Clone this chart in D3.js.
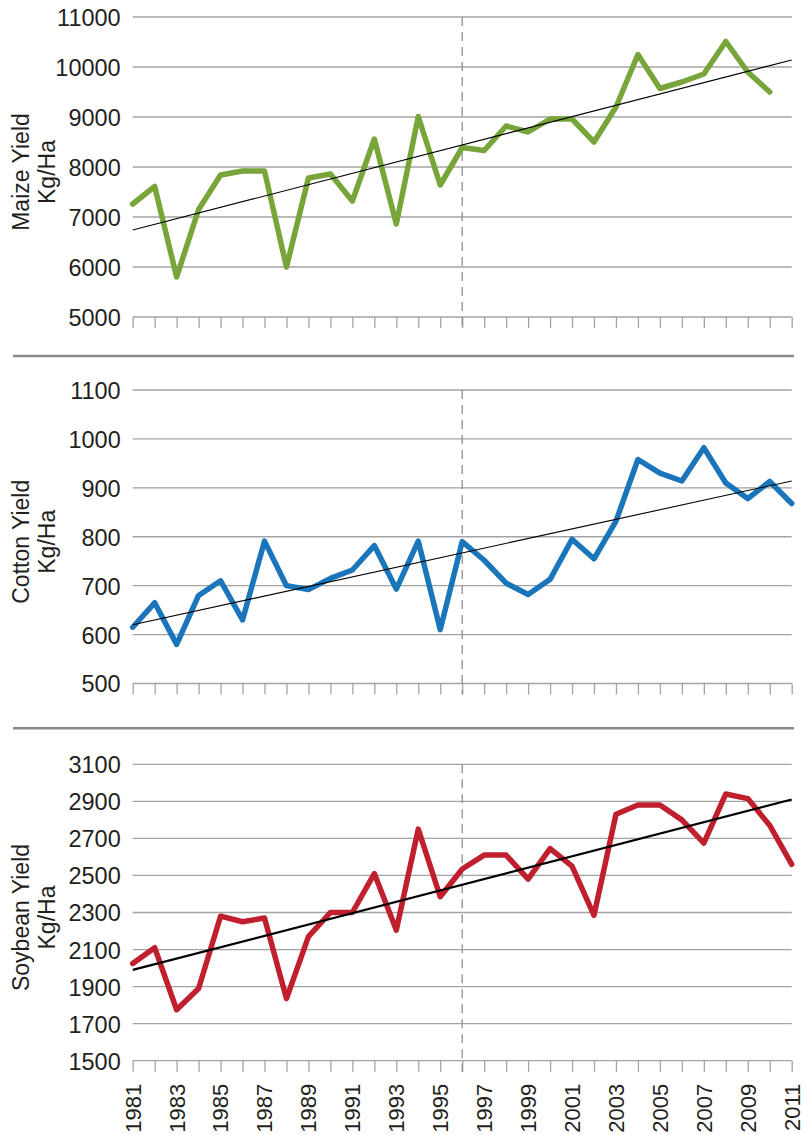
<!DOCTYPE html>
<html>
<head>
<meta charset="utf-8">
<script src="https://cdn.jsdelivr.net/npm/d3@7"></script>
<style>
  html, body { margin: 0; padding: 0; background: #fff; }
  svg { display: block; }
  text { font-family: "Liberation Sans", Arial, Helvetica, sans-serif; fill: #231f20; }
</style>
</head>
<body>
<svg id="chart" width="804" height="1135"></svg>
<script>
// ---------- DATA ----------
const years = d3.range(1981, 2012);
const yearLabels = d3.range(1981, 2012, 2);
const markerYear = 1996;

const maizeYears = d3.range(1981, 2011);
const maizeYield = [7260, 7610, 5800, 7150, 7840, 7920, 7920, 6000, 7780, 7860,
                    7320, 8560, 6860, 9010, 7640, 8390, 8330, 8820, 8700, 8960,
                    8960, 8500, 9200, 10250, 9570, 9700, 9860, 10510, 9900, 9500];
const maizeTrend = [6740, 10140];
const maizeTicks = [5000, 6000, 7000, 8000, 9000, 10000, 11000];

const cottonYears = d3.range(1981, 2012);
const cottonYield = [615, 665, 580, 680, 710, 630, 791, 700, 692, 715,
                     732, 782, 693, 791, 610, 790, 752, 705, 682, 713,
                     795, 755, 832, 958, 930, 914, 982, 910, 878, 913, 868];
const cottonTrend = [620, 914];
const cottonTicks = [500, 600, 700, 800, 900, 1000, 1100];

const soyYears = d3.range(1981, 2012);
const soyYield = [2025, 2110, 1775, 1890, 2280, 2250, 2270, 1835, 2170, 2300,
                  2300, 2510, 2205, 2750, 2385, 2535, 2610, 2610, 2480, 2645,
                  2550, 2285, 2830, 2880, 2880, 2800, 2675, 2940, 2915, 2770, 2560];
const soyTrend = [1990, 2910];
const soyTicks = [1500, 1700, 1900, 2100, 2300, 2500, 2700, 2900, 3100];

// ---------- LAYOUT ----------
const svg = d3.select("#chart");
const x = d3.scaleLinear().domain([1981, 2011]).range([132.7, 791.7]);

const panels = [
  { title: ["Maize Yield", "Kg/Ha"], years: maizeYears, values: maizeYield, trend: maizeTrend,
    ticks: maizeTicks, top: 17, bottom: 317, color: "#77a53a", trendWidth: 1.1 },
  { title: ["Cotton Yield", "Kg/Ha"], years: cottonYears, values: cottonYield, trend: cottonTrend,
    ticks: cottonTicks, top: 390, bottom: 683.5, color: "#1a75bb", trendWidth: 1.1 },
  { title: ["Soybean Yield", "Kg/Ha"], years: soyYears, values: soyYield, trend: soyTrend,
    ticks: soyTicks, top: 764.3, bottom: 1060.7, color: "#c01f2e", trendWidth: 2.2 }
];

const gridColor = "#a3a3a3";
const fontSize = 23.5;
const yearFontSize = 22;

panels.forEach((p, i) => {
  const y = d3.scaleLinear().domain([p.ticks[0], p.ticks[p.ticks.length - 1]]).range([p.bottom, p.top]);
  const g = svg.append("g");

  // gridlines
  g.append("g").selectAll("line").data(p.ticks.slice(1)).join("line")
    .attr("x1", x(1981)).attr("x2", x(2011))
    .attr("y1", d => y(d)).attr("y2", d => y(d))
    .attr("stroke", gridColor).attr("stroke-width", 1.3);

  // y axis labels
  const yAxis = g.append("g").attr("transform", `translate(${x(1981)},0)`)
    .call(d3.axisLeft(y).tickValues(p.ticks).tickSize(0).tickPadding(12).tickFormat(d3.format("d")));
  yAxis.select(".domain").remove();
  yAxis.attr("font-size", null).attr("font-family", null);
  yAxis.selectAll("text").style("font-size", fontSize + "px")
    .style("font-family", '"Liberation Sans", Arial, sans-serif').attr("fill", "#231f20")
    .attr("dy", "0.36em");

  // x axis line + ticks
  const xAxis = g.append("g").attr("transform", `translate(0,${p.bottom})`)
    .call(d3.axisBottom(x).tickValues(years).tickSize(11).tickFormat(""));
  xAxis.select(".domain").attr("stroke", gridColor).attr("stroke-width", 1.3)
    .attr("d", `M${x(1981)},0H${x(2011)}`);
  xAxis.selectAll(".tick line").attr("stroke", gridColor).attr("stroke-width", 1.3);

  // dashed 1996 marker
  g.append("line")
    .attr("x1", x(markerYear)).attr("x2", x(markerYear))
    .attr("y1", p.top).attr("y2", p.bottom + 11)
    .attr("stroke", "#8f8f8f").attr("stroke-width", 1.3)
    .attr("stroke-dasharray", "9,6");

  // data line
  const line = d3.line().x((d, j) => x(p.years[j])).y(d => y(d));
  g.append("path").datum(p.values)
    .attr("d", line)
    .attr("fill", "none").attr("stroke", p.color).attr("stroke-width", 5.5)
    .attr("stroke-linejoin", "round").attr("stroke-linecap", "round");

  // trend line
  g.append("line")
    .attr("x1", x(1981)).attr("y1", y(p.trend[0]))
    .attr("x2", x(2011)).attr("y2", y(p.trend[1]))
    .attr("stroke", "#000").attr("stroke-width", p.trendWidth);

  // y title
  const cy = (p.top + p.bottom) / 2 + 5;
  const t = g.append("text")
    .attr("transform", `translate(29,${cy}) rotate(-90)`)
    .attr("text-anchor", "middle")
    .style("font-size", "23px");
  t.append("tspan").attr("x", 0).attr("y", 0).text(p.title[0]);
  t.append("tspan").attr("x", 0).attr("y", 26).text(p.title[1]);

  // separator
  if (i < 2) {
    const sy = i === 0 ? 356 : 728.3;
    g.append("line").attr("x1", 13).attr("x2", 794).attr("y1", sy).attr("y2", sy)
      .attr("stroke", "#8a8a8a").attr("stroke-width", 2.5);
  }

  // year labels on last panel
  if (i === 2) {
    g.append("g").selectAll("text").data(yearLabels).join("text")
      .attr("transform", d => `translate(${x(d)},${p.bottom + 23}) rotate(-90)`)
      .attr("text-anchor", "end")
      .attr("dy", "0.36em")
      .style("font-size", yearFontSize + "px")
      .text(d => d);
  }
});
</script>
</body>
</html>
